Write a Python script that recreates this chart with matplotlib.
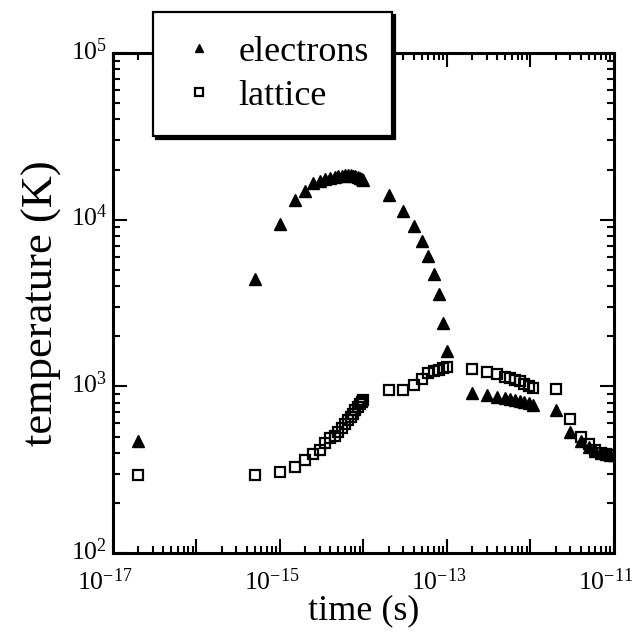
import numpy as np
import matplotlib
matplotlib.use("Agg")
import matplotlib.pyplot as plt
from matplotlib.ticker import FixedLocator, FuncFormatter, LogLocator, NullFormatter
from matplotlib.transforms import ScaledTranslation

plt.rcParams["font.family"] = ["Liberation Serif", "DejaVu Serif"]
plt.rcParams["mathtext.fontset"] = "custom"
plt.rcParams["mathtext.rm"] = "Liberation Serif"
plt.rcParams["mathtext.it"] = "Liberation Serif:italic"

# Elektronen-Temperatur (s, K)
t_electrons = [2e-17, 5e-16, 1e-15, 1.5e-15, 2e-15, 2.5e-15, 3e-15, 3.5e-15, 4e-15,
               4.5e-15, 5e-15, 5.5e-15, 6e-15, 6.5e-15, 7e-15, 7.5e-15, 8e-15,
               8.5e-15, 9e-15, 9.5e-15, 1e-14,
               2e-14, 3e-14, 4e-14, 5e-14, 6e-14, 7e-14, 8e-14, 9e-14, 1e-13,
               2e-13, 3e-13, 4e-13, 5e-13, 5.7e-13, 6.5e-13, 7.4e-13, 8.4e-13,
               9.6e-13, 1.08e-12,
               2e-12, 3e-12, 4e-12, 5e-12, 6e-12, 7e-12, 8e-12, 9e-12, 1e-11]
T_electrons = [472, 4385, 9400, 13200, 14900, 16500, 17100, 17500, 17800,
               18100, 18300, 18400, 18500, 18500, 18500, 18400, 18300,
               18100, 17800, 17500, 17200,
               14100, 11300, 9190, 7470, 6050, 4720, 3580, 2390, 1640,
               908, 890, 866, 847, 836, 830, 822, 808,
               797, 777,
               721, 535, 470, 435, 410, 398, 391, 388, 386]

# Gitter-Temperatur (s, K)
t_lattice = [2e-17, 5e-16, 1e-15, 1.5e-15, 2e-15, 2.5e-15, 3e-15, 3.5e-15, 4e-15,
             4.5e-15, 5e-15, 5.5e-15, 6e-15, 6.5e-15, 7e-15, 7.5e-15, 8e-15,
             8.5e-15, 9e-15, 9.5e-15, 1e-14,
             2e-14, 3e-14, 4e-14, 5e-14, 6e-14, 7e-14, 8e-14, 9e-14, 1e-13,
             2e-13, 3e-13, 4e-13, 5e-13, 5.7e-13, 6.5e-13, 7.4e-13, 8.4e-13,
             9.6e-13, 1.08e-12,
             2e-12, 3e-12, 4e-12, 5e-12, 6e-12, 7e-12, 8e-12, 9e-12, 1e-11]
T_lattice = [294, 294, 307, 330, 361, 393, 415, 455, 488,
             503, 532, 563, 595, 627, 654, 682, 720,
             752, 783, 805, 828,
             950, 950, 1020, 1100, 1200, 1230, 1260, 1290, 1310,
             1270, 1220, 1190, 1140, 1120, 1090, 1070, 1040,
             1010, 975,
             960, 637, 499, 451, 415, 400, 393, 390, 388]

x_decades = [-17, -16, -15, -14, -13, -12, -11]
x_labeled = [-17, -15, -13, -11]
y_decades = [2, 3, 4, 5]

fig = plt.figure(figsize=(6.39, 6.42), dpi=100)
ax = fig.add_axes([0.1768, 0.1386, 0.784, 0.7788])

ax.plot(t_electrons, T_electrons, linestyle="none", marker="^", markersize=8.5,
        color="black", label="electrons")
ax.plot(t_lattice, T_lattice, linestyle="none", marker="s", markersize=7.5,
        markerfacecolor="none", markeredgecolor="black", markeredgewidth=1.6,
        label="lattice")

ax.set_xscale("log")
ax.set_yscale("log")
ax.set_xlim(1e-17, 1e-11)
ax.set_ylim(1e2, 1e5)


def make_formatter(shown):
    def fmt(v, pos=None):
        e = int(round(np.log10(v)))
        if e not in shown:
            return ""
        return r"$\mathregular{10^{%d}}$" % e
    return FuncFormatter(fmt)


ax.xaxis.set_major_locator(FixedLocator([10.0 ** e for e in x_decades]))
ax.xaxis.set_major_formatter(make_formatter(x_labeled))
ax.xaxis.set_minor_locator(LogLocator(base=10, subs=np.arange(2, 10), numticks=20))
ax.xaxis.set_minor_formatter(NullFormatter())
ax.yaxis.set_major_locator(FixedLocator([10.0 ** e for e in y_decades]))
ax.yaxis.set_major_formatter(make_formatter(y_decades))
ax.yaxis.set_minor_locator(LogLocator(base=10, subs=np.arange(2, 10), numticks=20))
ax.yaxis.set_minor_formatter(NullFormatter())

ax.tick_params(which="both", direction="in", top=True, right=True, width=1.5)
ax.tick_params(which="major", length=10, labelsize=18.5, pad=4)
ax.tick_params(axis="x", which="major", pad=11)
ax.tick_params(which="minor", length=5)
for s in ax.spines.values():
    s.set_linewidth(2.2)

# "10" ueber dem Tick zentrieren, Exponent rechts davon
shift_x = ScaledTranslation(-6 / 72, 0, fig.dpi_scale_trans)
for lab in ax.xaxis.get_majorticklabels():
    lab.set_transform(lab.get_transform() + shift_x)
shift_y = ScaledTranslation(0, 3 / 72, fig.dpi_scale_trans)
for lab in ax.yaxis.get_majorticklabels():
    lab.set_transform(lab.get_transform() + shift_y)

ax.set_xlabel("time (s)", fontsize=26, labelpad=0)
ax.set_ylabel("temperature (K)", fontsize=32, labelpad=6)

leg = ax.legend(loc="upper left", bbox_to_anchor=(0.08, 1.082), fontsize=26,
                frameon=True, fancybox=False, edgecolor="black", framealpha=1,
                markerscale=0.7, numpoints=1, handlelength=1.22, handletextpad=0.5,
                borderpad=0.65, labelspacing=0.3, borderaxespad=0,
                shadow={"color": "black", "alpha": 1})
leg.get_frame().set_linewidth(1.6)

fig.savefig("out.png", dpi=100)
